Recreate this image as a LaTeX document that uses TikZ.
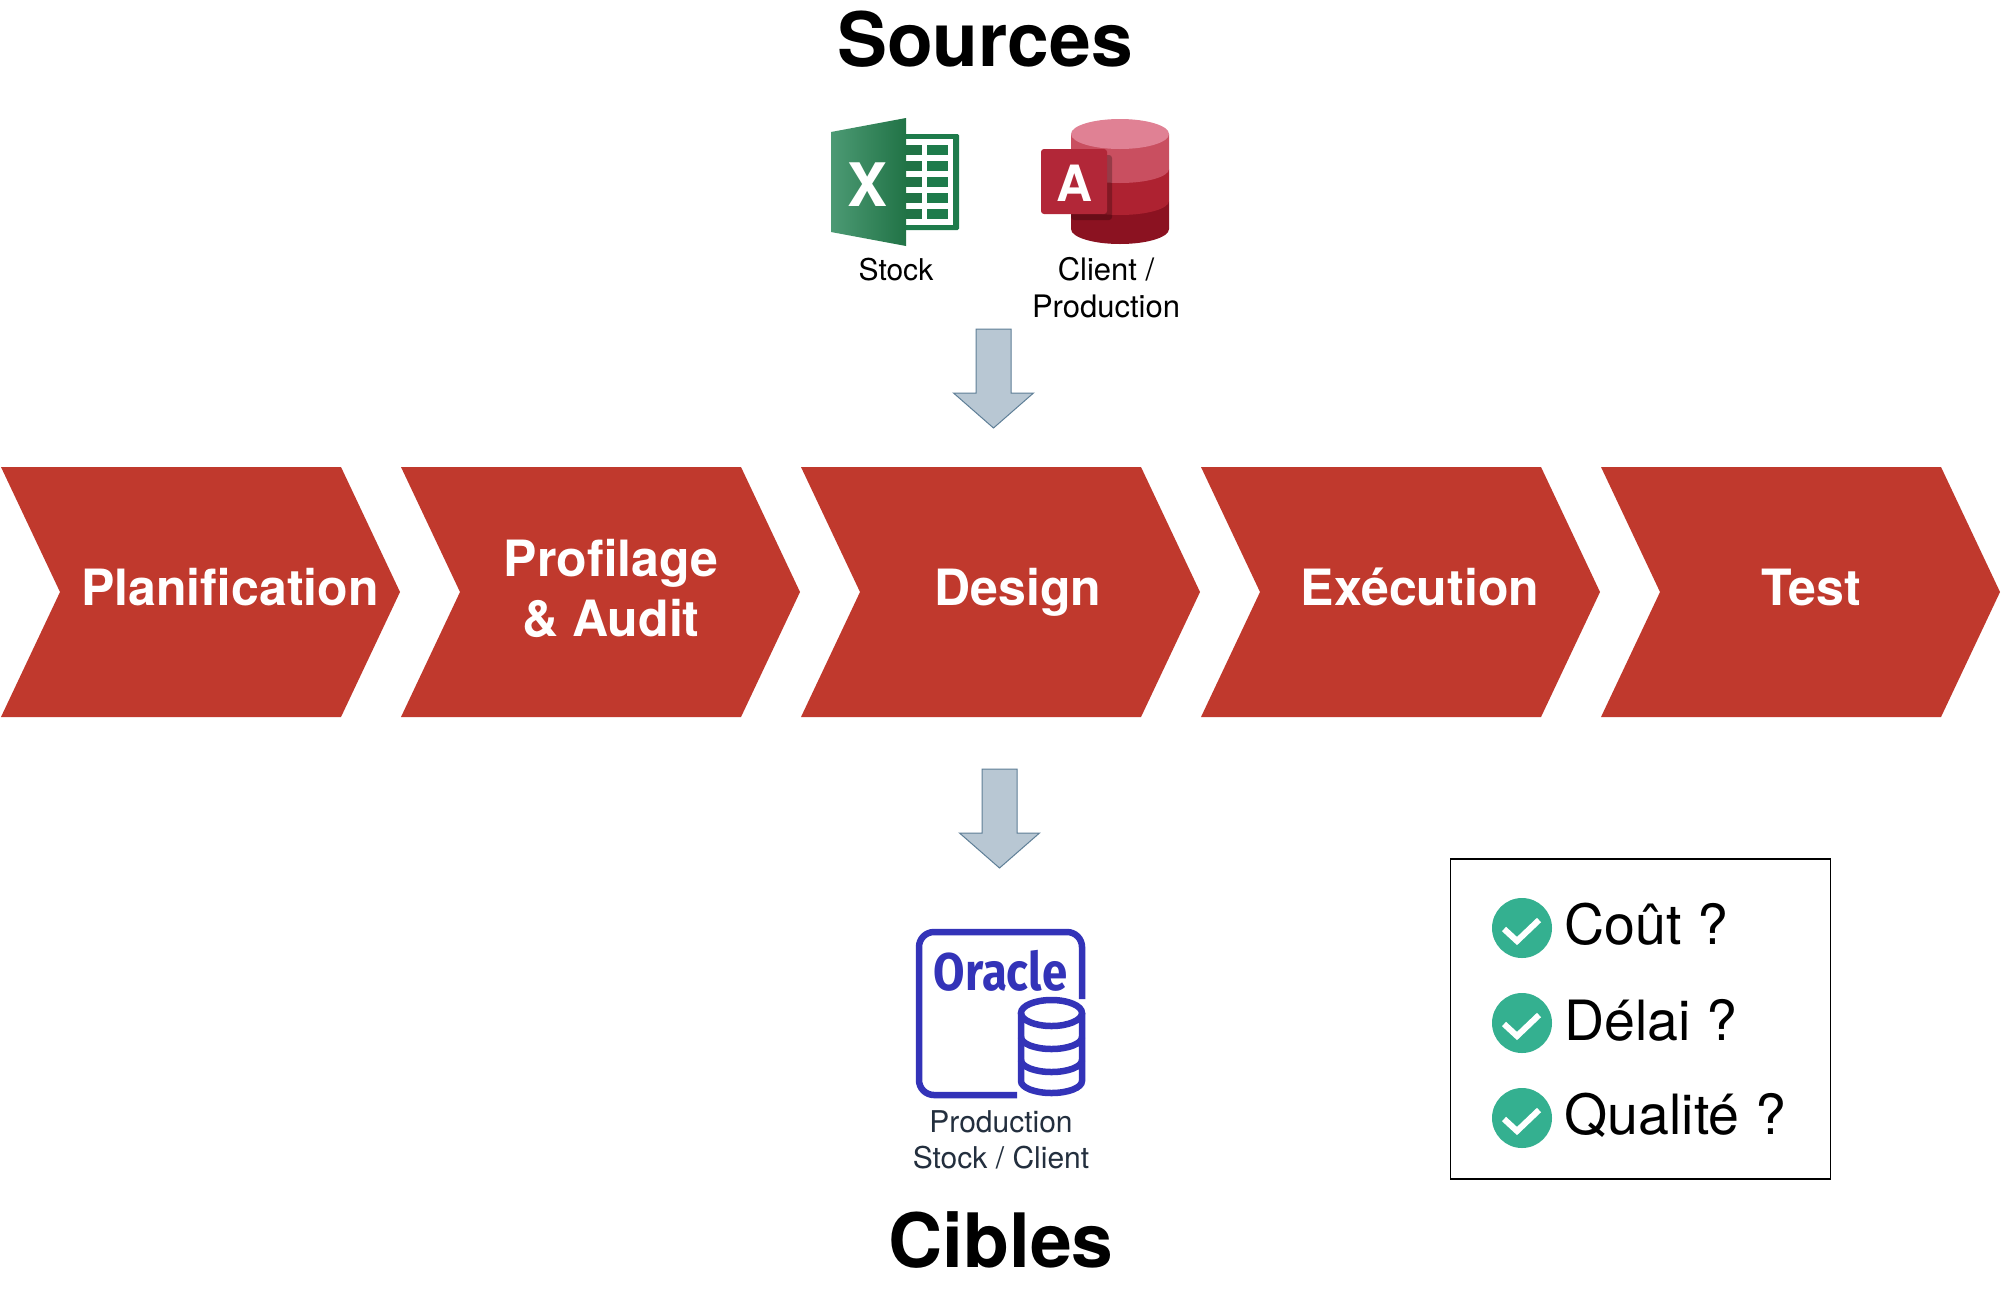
\documentclass[tikz,border=0pt]{standalone}
\usepackage{fontspec}
\setmainfont{TeX Gyre Heros}
\newfontfamily\logofont{Fira Sans}
\usetikzlibrary{positioning,calc}
\definecolor{brick}{HTML}{C0392D}
\definecolor{steel}{HTML}{B8C7D3}
\definecolor{steeledge}{HTML}{5F7F97}
\definecolor{xlback}{HTML}{1E7B4B}
\definecolor{xllight}{HTML}{4C9A74}
\definecolor{xldark}{HTML}{217346}
\definecolor{acctop}{HTML}{E08194}
\definecolor{accone}{HTML}{C94F60}
\definecolor{acctwo}{HTML}{AE2231}
\definecolor{accthree}{HTML}{8B1221}
\definecolor{accsquare}{HTML}{B22738}
\definecolor{oraclue}{HTML}{3333B8}
\definecolor{slate}{HTML}{232F3E}
\definecolor{okgreen}{HTML}{34B090}
\tikzset{
  titletext/.style={font=\fontsize{75}{80}\selectfont\bfseries,anchor=base},
  steptext/.style={font=\fontsize{50}{60}\selectfont\bfseries,text=white,align=center,inner sep=0pt},
  smalltext/.style={font=\fontsize{30}{36}\selectfont,align=center,inner sep=0pt},
  asktext/.style={font=\fontsize{55.5}{60}\selectfont,anchor=base west,inner sep=0pt},
  chevron/.pic={\fill[brick] (0,467)--(340,467)--(399,592)--(340,717)--(0,717)--(59,592)--cycle;},
  blockarrow/.pic={\draw[fill=steel,draw=steeledge,line width=1pt] (-17.5,0)--(17.5,0)--(17.5,64)--(40,64)--(0,99)--(-40,64)--(-17.5,64)--cycle;},
  okmark/.pic={\fill[okgreen] (0,0) circle (30);
    \draw[white,line width=6pt] (-18,1)--(-5,13)--(17,-8);}
}
\begin{document}
\begin{tikzpicture}[x=1pt,y=-1pt]
\useasboundingbox (0,0) rectangle (2012,1291);
\fill[white] (0,0) rectangle (2012,1291);
\node[titletext] (sources) at (985,66) {Sources};
\fill[xlback,rounded corners=1.5pt] (900,134) rectangle (959,230);
\fill[white] (900,139) rectangle (953,225);
\foreach \rowy in {145,161,177,193,209}{
  \fill[xldark] (906,\rowy) rectangle (922,\rowy+10);
  \fill[xlback] (927,\rowy) rectangle (948,\rowy+10);
}
\path[left color=xllight,right color=xldark] (831,132)--(906,118)--(906,246)--(831,232)--cycle;
\node[font=\fontsize{60}{60}\selectfont\bfseries,text=white,inner sep=0pt] (xlletter) at (867,185) {X};
\node[smalltext,anchor=base] (stock) at (896,280) {Stock};
\fill[accthree] (1071,201) -- (1071,229) arc[start angle=180,end angle=0,x radius=49,y radius=15] -- (1169,201) -- cycle;
\fill[acctwo] (1071,169) -- (1071,201) arc[start angle=180,end angle=0,x radius=49,y radius=14] -- (1169,169) -- cycle;
\fill[accone] (1071,134) -- (1071,169) arc[start angle=180,end angle=0,x radius=49,y radius=14] -- (1169,134) -- cycle;
\fill[acctop] (1120,134) ellipse[x radius=49,y radius=15];
\fill[black,opacity=.25,rounded corners=3pt] (1071,155) rectangle (1112,220);
\fill[accsquare,rounded corners=3pt] (1041,149) rectangle (1107,214);
\node[font=\fontsize{50}{55}\selectfont\bfseries,text=white,inner sep=0pt] (accletter) at (1075,183) {A};
\node[font=\fontsize{31}{37}\selectfont,align=center,inner sep=0pt] (client) at (1106,288) {Client /\\Production};
\pic (arrowtop) at (993.5,329) {blockarrow};
\pic (stepa) at (1,0) {chevron};
\pic (stepb) at (401,0) {chevron};
\pic (stepc) at (801,0) {chevron};
\pic (stepd) at (1201,0) {chevron};
\pic (stepe) at (1601,0) {chevron};
\node[steptext,anchor=base] (plan) at (230,605) {Planification};
\node[steptext] (profil) at (611,588) {Profilage\\\& Audit};
\node[steptext,anchor=base] (design) at (1018,605) {Design};
\node[steptext,anchor=base] (exec) at (1420,605) {Exécution};
\node[steptext,anchor=base] (test) at (1811,605) {Test};
\pic (arrowbottom) at (999.5,769) {blockarrow};
\draw[oraclue,line width=6.5pt,rounded corners=15pt] (1082,999)--(1082,932)--(919,932)--(919,1095)--(1017,1095);
\draw[oraclue,line width=6.5pt] (1051.5,1013) ellipse[x radius=30.5,y radius=13];
\draw[oraclue,line width=6.5pt] (1021,1013)--(1021,1081) arc[start angle=180,end angle=0,x radius=30.5,y radius=12]--(1082,1013);
\draw[oraclue,line width=6.5pt] (1021,1037) arc[start angle=180,end angle=0,x radius=30.5,y radius=12];
\draw[oraclue,line width=6.5pt] (1021,1060) arc[start angle=180,end angle=0,x radius=30.5,y radius=12];
\node[font=\fontsize{53}{55}\selectfont\logofont\bfseries,text=oraclue,xscale=.86,inner sep=0pt] (oracle) at (1000.5,971) {Oracle};
\node[smalltext,text=slate] (target) at (1001,1139.5) {Production\\Stock / Client};
\node[titletext] (cibles) at (1001,1267) {Cibles};
\node[draw=black,line width=1.3pt,minimum width=380pt,minimum height=320pt,inner sep=0pt] (askbox) at (1640.5,1019) {};
\pic (checka) at (1522,928) {okmark};
\pic (checkb) at (1522,1023) {okmark};
\pic (checkc) at (1522,1118) {okmark};
\node[asktext] (cost) at (1564.5,944) {Coût ?};
\node[asktext] (delay) at (1564.5,1040) {Délai ?};
\node[asktext] (quality) at (1564.5,1134) {Qualité ?};
\end{tikzpicture}
\end{document}
